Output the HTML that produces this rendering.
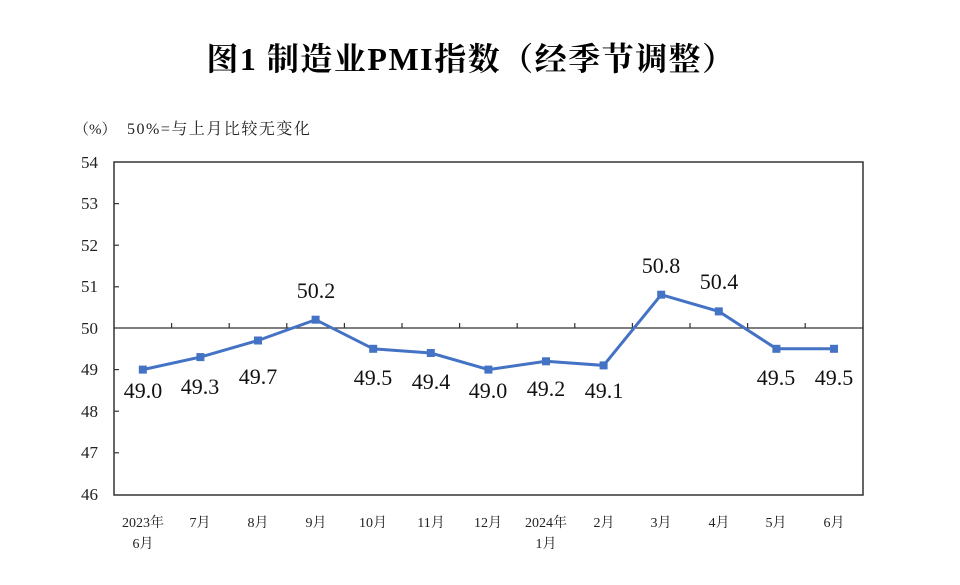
<!DOCTYPE html>
<html><head><meta charset="utf-8"><style>body{margin:0;background:#fff}</style></head><body>
<svg width="960" height="580" xmlns="http://www.w3.org/2000/svg" font-family="'Liberation Serif','Noto Serif CJK SC',serif">
<text x="471" y="70" text-anchor="middle" font-size="32" font-weight="bold" letter-spacing="1.5" font-family="'Liberation Serif','Noto Serif CJK SC',serif">图1  制造业PMI指数（经季节调整）</text>
<text x="74" y="134" font-size="15" fill="#222">（%）</text>
<text x="127" y="134" font-size="16" letter-spacing="1.5" fill="#222">50%=与上月比较无变化</text>
<rect x="114" y="162" width="749" height="333" fill="none" stroke="#333" stroke-width="1.5"/>
<g stroke="#333" stroke-width="1.2">
<line x1="114" y1="328" x2="863" y2="328"/>
<line x1="114" y1="203.6" x2="119" y2="203.6"/><line x1="114" y1="245.2" x2="119" y2="245.2"/><line x1="114" y1="286.8" x2="119" y2="286.8"/><line x1="114" y1="369.6" x2="119" y2="369.6"/><line x1="114" y1="411.2" x2="119" y2="411.2"/><line x1="114" y1="452.8" x2="119" y2="452.8"/>
<line x1="171.6" y1="328" x2="171.6" y2="323"/><line x1="229.2" y1="328" x2="229.2" y2="323"/><line x1="286.8" y1="328" x2="286.8" y2="323"/><line x1="344.4" y1="328" x2="344.4" y2="323"/><line x1="402" y1="328" x2="402" y2="323"/><line x1="459.6" y1="328" x2="459.6" y2="323"/><line x1="517.2" y1="328" x2="517.2" y2="323"/><line x1="574.8" y1="328" x2="574.8" y2="323"/><line x1="632.4" y1="328" x2="632.4" y2="323"/><line x1="690" y1="328" x2="690" y2="323"/><line x1="747.6" y1="328" x2="747.6" y2="323"/><line x1="805.2" y1="328" x2="805.2" y2="323"/>
</g>
<g font-size="17" text-anchor="end" fill="#222">
<text x="98" y="168">54</text><text x="98" y="209">53</text><text x="98" y="251">52</text><text x="98" y="292">51</text><text x="98" y="334">50</text><text x="98" y="375">49</text><text x="98" y="417">48</text><text x="98" y="458">47</text><text x="98" y="500">46</text>
</g>
<polyline fill="none" stroke="#4472C4" stroke-width="3" points="142.8,369.6 200.4,357.1 258,340.5 315.6,319.7 373.2,348.8 430.8,353 488.4,369.6 546,361.3 603.6,365.4 661.2,294.7 718.8,311.4 776.4,348.8 834,348.8"/>
<g fill="#4472C4">
<rect x="138.8" y="365.6" width="8" height="8"/><rect x="196.4" y="353.1" width="8" height="8"/><rect x="254" y="336.5" width="8" height="8"/><rect x="311.6" y="315.7" width="8" height="8"/><rect x="369.2" y="344.8" width="8" height="8"/><rect x="426.8" y="349" width="8" height="8"/><rect x="484.4" y="365.6" width="8" height="8"/><rect x="542" y="357.3" width="8" height="8"/><rect x="599.6" y="361.4" width="8" height="8"/><rect x="657.2" y="290.7" width="8" height="8"/><rect x="714.8" y="307.4" width="8" height="8"/><rect x="772.4" y="344.8" width="8" height="8"/><rect x="830" y="344.8" width="8" height="8"/>
</g>
<g font-size="22" text-anchor="middle" fill="#111">
<text x="143" y="398">49.0</text><text x="200" y="394">49.3</text><text x="258" y="384">49.7</text><text x="316" y="298">50.2</text><text x="373" y="385">49.5</text><text x="431" y="389">49.4</text><text x="488" y="398">49.0</text><text x="546" y="396">49.2</text><text x="604" y="398">49.1</text><text x="661" y="273">50.8</text><text x="719" y="289">50.4</text><text x="776" y="385">49.5</text><text x="834" y="385">49.5</text>
</g>
<g font-size="14" text-anchor="middle" fill="#222">
<text x="143" y="527">2023年</text><text x="143" y="548">6月</text>
<text x="200" y="527">7月</text><text x="258" y="527">8月</text><text x="316" y="527">9月</text><text x="373" y="527">10月</text><text x="431" y="527">11月</text><text x="488" y="527">12月</text>
<text x="546" y="527">2024年</text><text x="546" y="548">1月</text>
<text x="604" y="527">2月</text><text x="661" y="527">3月</text><text x="719" y="527">4月</text><text x="776" y="527">5月</text><text x="834" y="527">6月</text>
</g>
</svg>
</body></html>
